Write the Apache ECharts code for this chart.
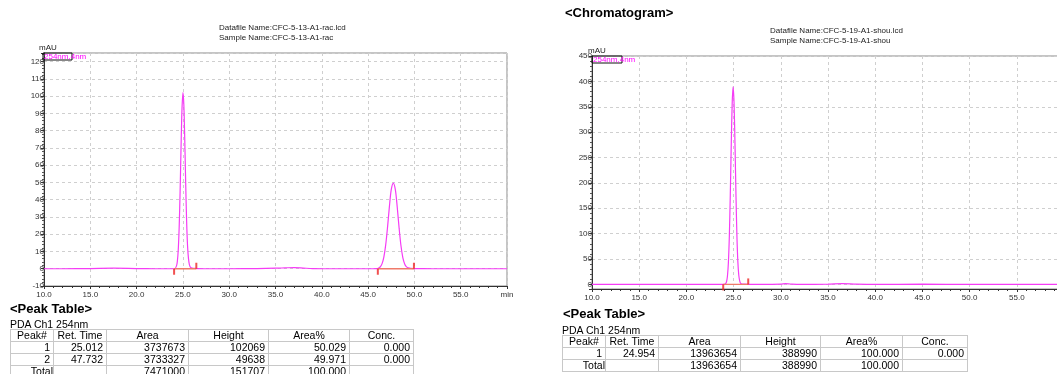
<!DOCTYPE html>
<html>
<head>
<meta charset="utf-8">
<title>Chromatogram</title>
<script src="https://cdn.jsdelivr.net/npm/echarts@6/dist/echarts.min.js"></script>
<style>
html, body { margin: 0; padding: 0; background: #fff; overflow: hidden; }
#main { position: absolute; left: 0; top: 0; width: 1057px; height: 374px; }
.ptitle { position: absolute; font: bold 13px "Liberation Sans", Arial, sans-serif; line-height: 15px; color: #000; white-space: nowrap; }
.pch { position: absolute; font: 10.5px "Liberation Sans", Arial, sans-serif; line-height: 12px; color: #000; white-space: nowrap; }
table.peak { position: absolute; border-collapse: collapse; table-layout: fixed; font: 10.5px "Liberation Sans", Arial, sans-serif; color: #000; }
table.peak td { border: 1px solid #c8c8c8; height: 11px; line-height: 11px; padding: 0 3px 0 0; text-align: right; white-space: nowrap; overflow: hidden; }
table.peak tr.hd td { text-align: center; padding: 0; }
table.peak td.tot { padding-right: 0; }
</style>
</head>
<body>
<div id="main"></div>

<div class="ptitle" style="left:10px; top:301px;">&lt;Peak Table&gt;</div>
<div class="pch" style="left:10px; top:318px;">PDA Ch1 254nm</div>
<table class="peak" id="tblRac" style="left:10px; top:329px;"></table>

<div class="ptitle" style="left:563px; top:306px;">&lt;Peak Table&gt;</div>
<div class="pch" style="left:562px; top:324px;">PDA Ch1 254nm</div>
<table class="peak" id="tblShou" style="left:562px; top:335px;"></table>

<script>
// sample names
const sampleNames = ['CFC-5-13-A1-rac', 'CFC-5-19-A1-shou']

// trace of racemate, [min, mAU]
const racTrace = [
  [10, 0], [12, 0], [15, 0.1], [17.5, 0.3], [20, 0.1], [22, 0], [23.5, 0], [24.1, 0],
  [24.3, 1.5], [24.4, 4.3], [24.5, 11.1], [24.6, 24.5], [24.7, 45], [24.8, 70.4],
  [24.9, 92.1], [25.01, 102.1], [25.1, 95.3], [25.2, 75], [25.3, 49.8], [25.4, 28.1],
  [25.5, 13.5], [25.6, 6], [25.7, 2.4], [25.8, 1], [26.0, 0.4], [26.3, 0.2], [26.6, 0.1],
  [28, 0], [30, 0], [33, 0.1], [35, 0.3], [36, 0.5], [37, 0.7], [38, 0.4], [39, 0.1],
  [42, 0], [45, 0], [45.9, 0.1], [46.1, 0.3], [46.3, 1.0], [46.5, 2.8], [46.7, 6.7],
  [46.9, 13.8], [47.1, 24.1], [47.3, 36], [47.5, 45.8], [47.73, 49.6], [47.95, 45.5],
  [48.15, 35.5], [48.35, 23.5], [48.55, 13.3], [48.75, 6.5], [48.95, 2.8], [49.15, 1.1],
  [49.35, 0.5], [49.6, 0.2], [50, 0.1], [52, 0], [55, 0], [58, 0], [60, 0]
]
const racPeakStart = [24.05, 46.05]
const racPeakEnd = [26.45, 49.95]

// trace of the second sample, [min, mAU]
const shouTrace = [
  [10, 0.3], [12, 0.2], [15, 0], [18, 0.2], [20, 0.1], [22, 0], [23.5, 0], [24.0, 0.2],
  [24.15, 1.4], [24.25, 5.3], [24.35, 16.7], [24.45, 43.6], [24.55, 96], [24.65, 177],
  [24.75, 274], [24.85, 356], [24.95, 389], [25.05, 356], [25.15, 274], [25.25, 177],
  [25.35, 97], [25.45, 45], [25.55, 18], [25.65, 6.5], [25.75, 2.2], [25.9, 0.9],
  [26.2, 0.5], [26.6, 0.3], [28, 0], [30, 0.5], [30.5, 1.5], [31, 0.8], [32, 0],
  [35, 0.5], [36.5, 1.5], [38, 0.5], [40, 0], [45, 0.5], [50, 0], [55, 0.3], [60, 0]
]
const shouPeakStart = [23.9]
const shouPeakEnd = [26.55]

// peak tables
const tableHead = ['Peak#', 'Ret. Time', 'Area', 'Height', 'Area%', 'Conc.']
const racRetTime = [25.012, 47.732]
const racArea = [3737673, 3733327]
const racHeight = [102069, 49638]
const racAreaPct = [50.029, 49.971]
const racConc = [0, 0]
const shouRetTime = [24.954]
const shouArea = [13963654]
const shouHeight = [388990]
const shouAreaPct = [100]
const shouConc = [0]

const FONT = '"Liberation Sans", Arial, sans-serif'
const TRACE = '#f53cf5'
const BASE = '#ef7a6a'
const MARK = '#ee2424'

function xAxisOf(idx) {
  return {
    gridIndex: idx,
    type: 'value',
    min: 10,
    max: 60,
    interval: 5,
    axisLine: { onZero: false, lineStyle: { color: '#333', width: 1 } },
    axisTick: { length: 3, lineStyle: { color: '#333' } },
    minorTick: { show: true, splitNumber: 5, length: 2, lineStyle: { color: '#333' } },
    axisLabel: {
      margin: 5,
      fontSize: 8,
      fontFamily: FONT,
      color: '#333',
      formatter: v => v === 60 ? 'min' : v.toFixed(1)
    },
    splitLine: { show: true, lineStyle: { color: '#cfcfcf', type: [3, 3] } }
  }
}

function yAxisOf(idx, min, max, extra, step) {
  return Object.assign({
    gridIndex: idx,
    type: 'value',
    min: min,
    max: max,
    axisLine: { show: true, onZero: false, lineStyle: { color: '#333', width: 1 } },
    axisTick: { show: true, length: 3, lineStyle: { color: '#333' } },
    minorTick: { show: true, splitNumber: 5, length: 2, lineStyle: { color: '#555' } },
    axisLabel: {
      margin: 0,
      fontSize: 8,
      fontFamily: FONT,
      color: '#333',
      formatter: v => (v % step === 0 && v <= max) ? String(v) : ''
    },
    splitLine: { show: true, lineStyle: { color: '#cfcfcf', type: [3, 3] } }
  }, extra)
}

function baselineOf(starts, ends) {
  let out = []
  starts.forEach((s, i) => {
    if (i > 0) out.push(['-', '-'])
    out.push([s, 0], [ends[i], 0])
  })
  return out
}

function headerText(x, y, name) {
  return {
    type: 'text', left: x, top: y, z: 10,
    style: {
      text: 'Datafile Name:' + name + '.lcd\nSample Name:' + name,
      font: '8px ' + FONT, fill: '#222', lineHeight: 10
    }
  }
}

function chLabel(x, y, w) {
  return [
    { type: 'text', left: x - 4, top: y - 9, z: 10,
      style: { text: 'mAU', font: '8px ' + FONT, fill: '#222' } },
    { type: 'rect', z: 10, shape: { x: x, y: y, width: w, height: 7 },
      style: { fill: 'rgba(0,0,0,0)', stroke: '#111', lineWidth: 1 } },
    { type: 'text', z: 11, x: x + 1, y: y + 4,
      style: { text: '254nm,4nm', font: '8px ' + FONT, fill: '#ff00ff', verticalAlign: 'middle' } }
  ]
}

let chart = echarts.init(document.getElementById('main'), null, { renderer: 'canvas' })
chart.setOption({
  animation: false,
  backgroundColor: '#fff',
  grid: [
    { left: 44, top: 53, width: 463, height: 233, show: true, borderColor: '#8a8a8a', borderWidth: 1,
      outerBoundsMode: 'none' },
    { left: 592, top: 56, width: 472, height: 233, show: true, borderColor: '#8a8a8a', borderWidth: 1,
      outerBoundsMode: 'none' }
  ],
  xAxis: [xAxisOf(0), xAxisOf(1)],
  yAxis: [
    yAxisOf(0, -10, 125, { interval: 10 }, 10),
    yAxisOf(1, -9, 450, { splitNumber: 9 }, 50)
  ],
  graphic: [
    { type: 'text', left: 565, top: 7, z: 10,
      style: { text: '<Chromatogram>', font: 'bold 13px ' + FONT, fill: '#000' } },
    headerText(219, 23, sampleNames[0]),
    headerText(770, 26, sampleNames[1])
  ].concat(chLabel(43, 53, 29), chLabel(592, 56, 30)),
  series: [
    {
      type: 'line', xAxisIndex: 0, yAxisIndex: 0, data: racTrace,
      symbol: 'none', smooth: 0.3, lineStyle: { color: TRACE, width: 1.2 }, z: 3
    },
    {
      type: 'line', xAxisIndex: 0, yAxisIndex: 0, data: baselineOf(racPeakStart, racPeakEnd),
      symbol: 'none', connectNulls: false, lineStyle: { color: BASE, width: 1.3 }, z: 4
    },
    {
      type: 'scatter', xAxisIndex: 0, yAxisIndex: 0, data: racPeakStart.map(t => [t, 0]),
      symbol: 'rect', symbolSize: [2, 6], symbolOffset: [0, 3], itemStyle: { color: MARK }, z: 5
    },
    {
      type: 'scatter', xAxisIndex: 0, yAxisIndex: 0, data: racPeakEnd.map(t => [t, 0]),
      symbol: 'rect', symbolSize: [2, 6], symbolOffset: [0, -3], itemStyle: { color: MARK }, z: 5
    },
    {
      type: 'line', xAxisIndex: 1, yAxisIndex: 1, data: shouTrace,
      symbol: 'none', smooth: 0.3, lineStyle: { color: TRACE, width: 1.2 }, z: 3
    },
    {
      type: 'line', xAxisIndex: 1, yAxisIndex: 1, data: baselineOf(shouPeakStart, shouPeakEnd),
      symbol: 'none', lineStyle: { color: BASE, width: 1.3 }, z: 4
    },
    {
      type: 'scatter', xAxisIndex: 1, yAxisIndex: 1, data: shouPeakStart.map(t => [t, 0]),
      symbol: 'rect', symbolSize: [2, 6], symbolOffset: [0, 3], itemStyle: { color: MARK }, z: 5
    },
    {
      type: 'scatter', xAxisIndex: 1, yAxisIndex: 1, data: shouPeakEnd.map(t => [t, 0]),
      symbol: 'rect', symbolSize: [2, 6], symbolOffset: [0, -3], itemStyle: { color: MARK }, z: 5
    }
  ]
})

// peak tables
function fillTable(id, widths, ret, area, height, pct, conc) {
  let tbl = document.getElementById(id)
  let html = '<colgroup>' + widths.map(w => '<col style="width:' + w + 'px">').join('') + '</colgroup>'
  html += '<tr class="hd">' + tableHead.map(h => '<td>' + h + '</td>').join('') + '</tr>'
  ret.forEach((r, i) => {
    html += '<tr><td>' + (i + 1) + '</td><td>' + r.toFixed(3) + '</td><td>' + area[i] +
      '</td><td>' + height[i] + '</td><td>' + pct[i].toFixed(3) + '</td><td>' + conc[i].toFixed(3) + '</td></tr>'
  })
  let sumArea = area.reduce((a, b) => a + b, 0)
  let sumHeight = height.reduce((a, b) => a + b, 0)
  let sumPct = pct.reduce((a, b) => a + b, 0)
  html += '<tr><td class="tot">Total</td><td></td><td>' + sumArea + '</td><td>' + sumHeight +
    '</td><td>' + sumPct.toFixed(3) + '</td><td></td></tr>'
  tbl.innerHTML = html
  tbl.style.width = widths.reduce((a, b) => a + b, 0) + 'px'
}
fillTable('tblRac', [43, 53, 82, 80, 81, 64], racRetTime, racArea, racHeight, racAreaPct, racConc)
fillTable('tblShou', [43, 53, 82, 80, 82, 65], shouRetTime, shouArea, shouHeight, shouAreaPct, shouConc)

window.onresize = function () {
  chart.resize()
}
</script>
</body>
</html>
